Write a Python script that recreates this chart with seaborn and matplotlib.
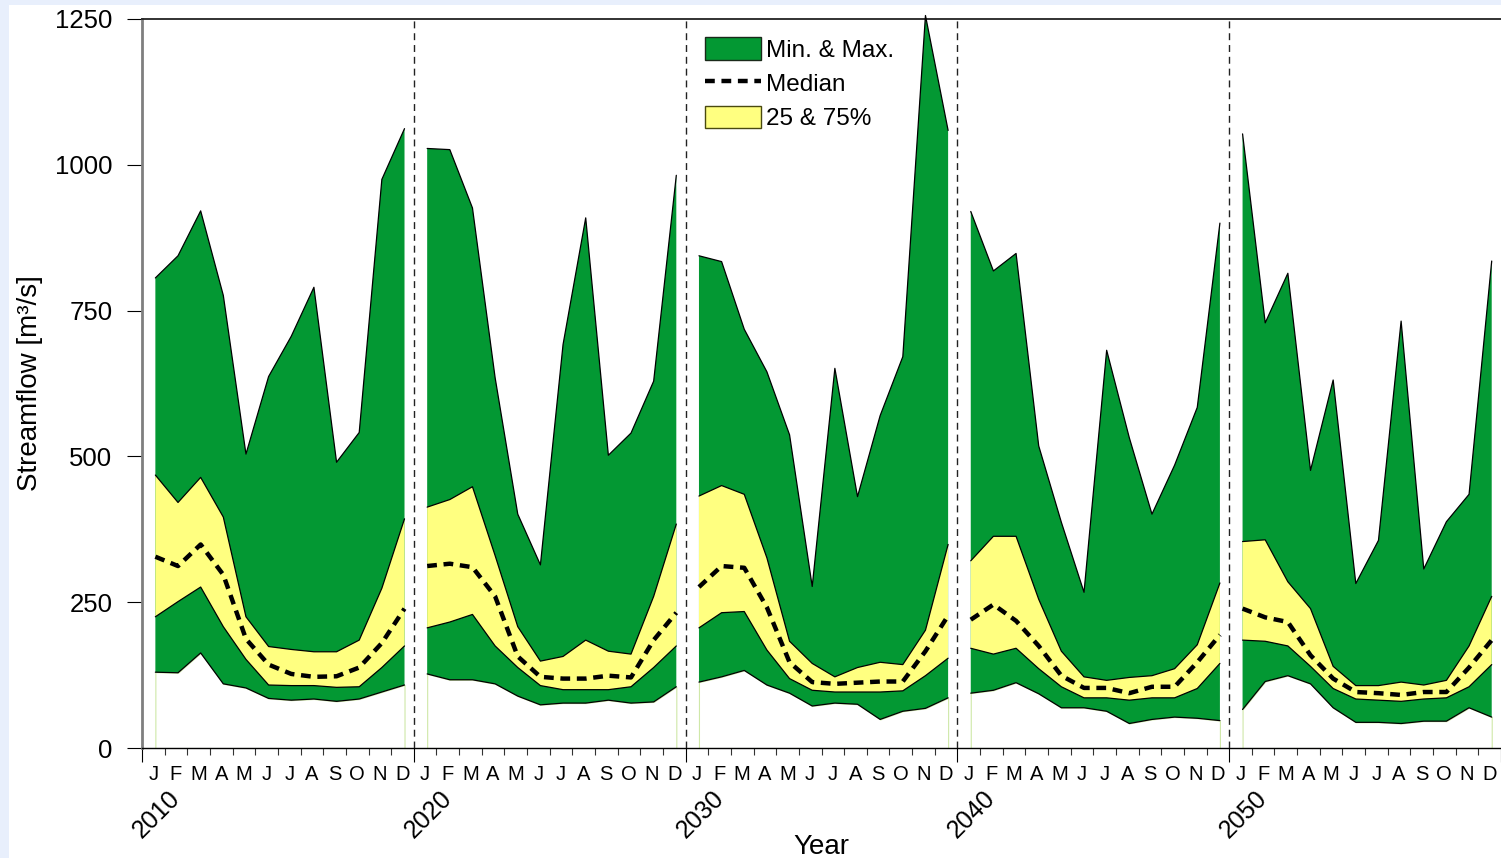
import numpy as np
import pandas as pd
import matplotlib
matplotlib.use("Agg")
import matplotlib.pyplot as plt
import matplotlib.transforms as mtransforms
from matplotlib.patches import Patch, Rectangle
from matplotlib.lines import Line2D
import seaborn as sns

# ---------------- data ----------------
DECADES = ["2010", "2020", "2030", "2040", "2050"]
MONTHS = ["J", "F", "M", "A", "M", "J", "J", "A", "S", "O", "N", "D"]

Q_MAX = [
    [806, 844, 921, 776, 504, 637, 706, 790, 490, 541, 975, 1062],
    [1028, 1026, 926, 635, 401, 314, 692, 909, 502, 540, 629, 982],
    [844, 834, 718, 645, 537, 277, 651, 431, 570, 671, 1256, 1059],
    [920, 818, 848, 518, 387, 267, 682, 532, 401, 485, 584, 900],
    [1053, 729, 814, 476, 631, 282, 356, 732, 307, 388, 435, 835],
]
Q75 = [
    [468, 421, 464, 396, 225, 174, 169, 165, 165, 185, 274, 393],
    [413, 426, 448, 330, 208, 149, 157, 185, 166, 161, 260, 384],
    [432, 450, 435, 326, 183, 145, 122, 138, 147, 143, 202, 349],
    [321, 363, 363, 255, 166, 122, 116, 121, 124, 136, 177, 283],
    [354, 357, 285, 239, 140, 107, 107, 113, 108, 116, 175, 260],
]
MEDIAN = [
    [328, 312, 349, 297, 187, 143, 127, 122, 123, 138, 180, 239],
    [312, 316, 310, 260, 157, 122, 119, 119, 124, 121, 185, 232],
    [276, 312, 309, 241, 147, 113, 110, 112, 114, 114, 166, 227],
    [220, 246, 218, 175, 124, 103, 103, 94, 105, 105, 147, 194],
    [239, 224, 216, 159, 119, 96, 94, 91, 96, 96, 138, 185],
]
Q25 = [
    [225, 251, 276, 208, 152, 108, 107, 107, 104, 105, 138, 175],
    [206, 216, 229, 175, 138, 107, 100, 100, 100, 105, 138, 175],
    [206, 232, 234, 168, 119, 99, 96, 96, 96, 98, 124, 154],
    [171, 161, 171, 136, 105, 86, 86, 82, 86, 86, 102, 145],
    [185, 183, 175, 140, 102, 84, 82, 80, 84, 86, 105, 143],
]
Q_MIN = [
    [130, 129, 163, 110, 103, 85, 82, 84, 80, 84, 96, 108],
    [127, 117, 117, 110, 89, 74, 77, 77, 82, 77, 79, 105],
    [113, 122, 133, 108, 94, 72, 77, 75, 49, 63, 68, 86],
    [94, 99, 112, 93, 69, 69, 63, 42, 49, 53, 51, 47],
    [66, 114, 124, 110, 69, 44, 44, 42, 46, 46, 69, 53],
]
Y_TICKS = [0, 250, 500, 750, 1000, 1250]

# ---------------- style ----------------
GREEN = "#039833"
YELLOW = "#FFFF80"
MED_DASH = (0, (2.2, 1.5))

sns.set_theme(style="white")
plt.rcParams["font.family"] = ["Liberation Sans", "DejaVu Sans"]
plt.rcParams["text.color"] = "black"
plt.rcParams["axes.labelcolor"] = "black"
plt.rcParams["xtick.color"] = "black"
plt.rcParams["ytick.color"] = "black"

W, H = 1501, 858
fig = plt.figure(figsize=(W / 100, H / 100), dpi=100, facecolor="#E8EFFC")
fig.patches.append(Rectangle((9 / W, 0), 1, 853 / H, transform=fig.transFigure,
                             facecolor="white", edgecolor="none", zorder=-10))
ax = fig.add_axes([142 / W, 110 / H, 1 - 142 / W, 729 / H])
ax.set_facecolor("white")

OFF = 0.59  # month boundaries offset

for d in range(len(DECADES)):
    x = np.arange(12) + 12 * d
    mx, q75, md, q25, mn = (np.array(a[d]) for a in (Q_MAX, Q75, MEDIAN, Q25, Q_MIN))
    ax.fill_between(x, 0, mn, facecolor="white", edgecolor="#cfe8a8", lw=0.8, zorder=1)
    ax.fill_between(x, mn, mx, facecolor=GREEN, edgecolor="none", lw=0, zorder=2, clip_on=False)
    ax.fill_between(x, q25, q75, facecolor=YELLOW, edgecolor="none", lw=0, zorder=3)
    df = pd.DataFrame({"x": x, "max": mx, "q75": q75, "q25": q25, "min": mn, "med": md})
    for col in ["max", "q75", "q25", "min"]:
        sns.lineplot(data=df, x="x", y=col, ax=ax, color="black", linewidth=0.9,
                     zorder=4, legend=False, clip_on=False)
    sns.lineplot(data=df, x="x", y="med", ax=ax, color="black", linewidth=3.2,
                 linestyle=MED_DASH, zorder=5, legend=False)

# decade separators
for d in range(1, len(DECADES)):
    ax.axvline(12 * d - OFF, color="#222222", lw=1.0, ls=(0, (5, 3.5)), zorder=6)

ax.set_xlim(-OFF, -OFF + (W - 142) / 22.72)
ax.set_ylim(0, 1250)

major = [12 * d - OFF for d in range(len(DECADES) + 1)]
minor = [k - OFF for k in range(61) if k % 12 != 0]
ax.set_xticks(major)
ax.set_xticks(minor, minor=True)
ax.set_xticklabels([])
ax.tick_params(axis="x", which="major", length=10, width=0.8, color="black",
               direction="out", bottom=True, labelbottom=False)
ax.tick_params(axis="x", which="minor", length=5, width=0.8, color="#333333",
               direction="out", bottom=True)
ax.set_yticks(Y_TICKS)
ax.set_yticklabels([str(v) for v in Y_TICKS])
ax.tick_params(axis="y", length=10.8, width=0.8, color="black", direction="out",
               left=True, labelsize=18.5, pad=10.5, labelcolor="black")

for side, sp in ax.spines.items():
    sp.set_visible(True)
ax.spines["left"].set_color("#7f7f7f")
ax.spines["left"].set_linewidth(2.0)
ax.spines["bottom"].set_color("black")
ax.spines["bottom"].set_linewidth(1.0)
ax.spines["top"].set_color("#222222")
ax.spines["top"].set_linewidth(1.3)
ax.spines["right"].set_visible(False)
ax.grid(False)

trans = mtransforms.blended_transform_factory(ax.transData, ax.transAxes)
for d, dec in enumerate(DECADES):
    for m, lab in enumerate(MONTHS):
        ax.text(12 * d + m - 0.09, -0.037, lab, transform=trans, ha="center",
                va="center", fontsize=14.5, color="black")
    ax.text(12 * d + 0.05, -0.0905, dec, transform=trans, ha="center", va="center",
            rotation=45, fontsize=18, color="black")

ax.set_xlabel("Year", fontsize=20, color="black")
ax.xaxis.set_label_coords(0.5, -0.118)
ax.set_ylabel("Streamflow [m³/s]", fontsize=20, color="black")
ax.yaxis.set_label_coords(-0.073, 0.5)

handles = [
    Patch(facecolor=GREEN, edgecolor="#1a2a1a", lw=1),
    Line2D([], [], color="black", lw=3.2, ls=MED_DASH),
    Patch(facecolor=YELLOW, edgecolor="#4a4a10", lw=1),
]
ax.legend(handles, ["Min. & Max.", "Median", "25 & 75%"], loc="upper left",
          bbox_to_anchor=(0.4146, 0.975), frameon=False, fontsize=17.5,
          handlelength=2.3, handleheight=1.05, handletextpad=0.2,
          labelspacing=0.4, borderaxespad=0, borderpad=0, labelcolor="black")

fig.savefig("out.png", dpi=100, facecolor=fig.get_facecolor())
